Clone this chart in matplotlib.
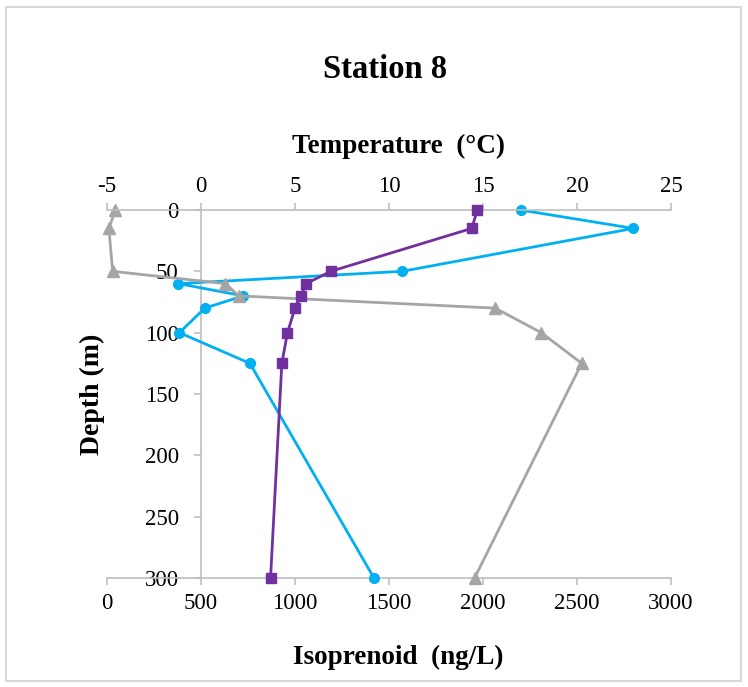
import matplotlib
matplotlib.use("Agg")
import matplotlib.pyplot as plt
from matplotlib.patches import Rectangle

# ---- data ----
depth = [0, 15, 50, 60, 70, 80, 100, 125, 300]
temperature = [14.7, 14.4, 6.9, 5.6, 5.3, 5.0, 4.6, 4.3, 3.7]
isoprenoid_blue = [2200, 2800, 1570, 380, 725, 520, 385, 760, 1420]
isoprenoid_gray = [45, 10, 30, 630, 700, 2065, 2310, 2525, 1955]

depth_ticks = [0, 50, 100, 150, 200, 250, 300]
iso_ticks = [0, 500, 1000, 1500, 2000, 2500, 3000]
temp_ticks = [-5, 0, 5, 10, 15, 20, 25]

PURPLE = "#7030A0"
BLUE = "#00B0F0"
GRAY = "#A5A5A5"
AXC = "#BFBFBF"

plt.rcParams["font.family"] = ["Liberation Serif", "DejaVu Serif"]
plt.rcParams["axes.unicode_minus"] = False

W, H = 748, 687
fig = plt.figure(figsize=(W / 100, H / 100), dpi=100)

# chart border
fig.patches.append(Rectangle((6 / W, 1 - 681 / H), 735 / W, 674 / H,
                             transform=fig.transFigure, fill=False,
                             edgecolor="#D9D9D9", linewidth=1.5))

left, right, top, bottom = 107, 671, 210, 578
ax = fig.add_axes([left / W, 1 - bottom / H, (right - left) / W, (bottom - top) / H])
ax.set_facecolor("none")

ax.plot(isoprenoid_blue, depth, color=BLUE, lw=2, marker="o", ms=7,
        zorder=3, clip_on=False)
ax.plot(isoprenoid_gray, depth, color=GRAY, lw=2, marker="^", ms=8,
        zorder=4, clip_on=False)

ax.set_xlim(0, 3000)
ax.set_ylim(300, 0)
ax.set_xticks(iso_ticks)
ax.set_yticks(depth_ticks)

for s in ["top", "right"]:
    ax.spines[s].set_visible(False)
ax.spines["left"].set_position(("data", 500))
ax.spines["left"].set_color(AXC)
ax.spines["bottom"].set_color(AXC)
ax.spines["left"].set_linewidth(1.2)
ax.spines["bottom"].set_linewidth(1.2)
ax.tick_params(axis="x", direction="out", length=5, width=1.2, color=AXC,
               labelsize=16.5, pad=6)
ax.tick_params(axis="y", direction="out", length=5, width=1.2, color=AXC,
               labelsize=16.5, pad=11)

ax2 = ax.twiny()
ax2.set_facecolor("none")
ax2.plot(temperature, depth, color=PURPLE, lw=2, marker="s", ms=7,
         zorder=5, clip_on=False)
ax2.set_xlim(-5, 25)
ax2.set_xticks(temp_ticks)
for s in ["bottom", "left", "right"]:
    ax2.spines[s].set_visible(False)
ax2.spines["top"].set_color(AXC)
ax2.spines["top"].set_linewidth(1.2)
ax2.tick_params(axis="x", direction="out", length=5, width=1.2, color=AXC,
                labelsize=16.5, pad=4)
ax2.set_zorder(ax.get_zorder() + 1)

fig.text(385 / W, 1 - 70 / H, "Station 8", ha="center", va="center",
         fontsize=23.5, fontweight="bold")
fig.text(398 / W, 1 - 146 / H, "Temperature  (°C)", ha="center", va="center",
         fontsize=19.5, fontweight="bold")
fig.text(398 / W, 1 - 657 / H, "Isoprenoid  (ng/L)", ha="center", va="center",
         fontsize=19.5, fontweight="bold")
fig.text(92 / W, 1 - 394 / H, "Depth (m)", ha="center", va="center",
         rotation=90, fontsize=20, fontweight="bold")

fig.savefig("out.png", dpi=100)
